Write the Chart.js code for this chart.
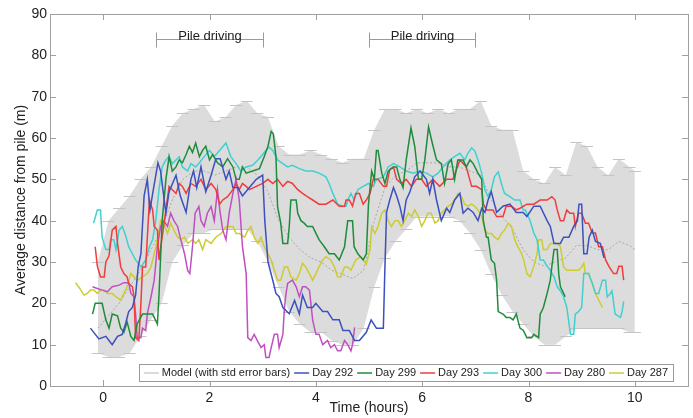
<!DOCTYPE html>
<html>
<head>
<meta charset="utf-8">
<script src="https://cdn.jsdelivr.net/npm/chart.js@4.4.1/dist/chart.umd.min.js"></script>
<style>
  html, body { margin: 0; padding: 0; background: #fff; }
</style>
</head>
<body>
<canvas id="chart" width="693" height="418"></canvas>
<script>
// axis ticks
const timeTicks = [0, 2, 4, 6, 8, 10];
const distTicks = [0, 10, 20, 30, 40, 50, 60, 70, 80, 90];

// pile driving periods (hours) and the height of the bracket (m)
const pileWindows = [[1, 3], [5, 7]];
const pileLevel = 84;

// model: mean with std error envelope
const bandTime  = [-0.1, 0.1, 0.3, 0.5, 0.7, 0.9, 1.1, 1.3, 1.5, 1.7, 1.9, 2.1, 2.3, 2.5, 2.7, 2.9, 3.1, 3.3, 3.5, 3.7, 3.9, 4.1, 4.3, 4.5, 4.7, 4.9, 5.1, 5.3, 5.5, 5.7, 5.9, 6.1, 6.3, 6.5, 6.7, 6.9, 7.1, 7.3, 7.5, 7.7, 7.9, 8.1, 8.3, 8.5, 8.7, 8.9, 9.1, 9.3, 9.5, 9.7, 9.9, 10.0];
const bandUpper = [30, 40, 43, 46, 50, 53, 58, 63, 66, 67, 68, 64, 65, 68, 69, 66, 65, 58, 56, 56, 57, 56, 55, 54, 55, 55, 62, 67, 67, 66, 67, 66, 67, 66, 67, 67, 69, 63, 62, 62, 52, 50, 49, 53, 51, 59, 58, 53, 51, 55, 53, 52];
const bandLower = [8, 7, 7, 8, 12, 16, 20, 30, 34, 37, 37, 38, 38, 38, 38, 35, 30, 24, 18, 15, 13, 13, 11, 10, 10, 14, 24, 31, 35, 38, 41, 41, 41, 41, 40, 37, 33, 27, 22, 18, 15, 12, 10, 10, 12, 14, 14, 14, 14, 14, 13, 13];
const bandMean  = [14, 17, 20, 24, 28, 33, 38, 45, 50, 52, 52, 51, 52, 53, 53, 51, 47, 40, 36, 33, 31, 30, 28, 27, 26, 28, 40, 48, 51, 52, 54, 54, 54, 53, 53, 52, 51, 45, 41, 38, 33, 30, 29, 30, 31, 34, 34, 33, 33, 35, 34, 33];

// observed days: [time (h), distance (m)]
const day292 = [[-0.24,14],[-0.08,11.4],[0.05,12],[0.11,11],[0.17,10],[0.27,12],[0.36,12.5],[0.42,15],[0.48,18],[0.55,19],[0.61,22],[0.66,29],[0.71,32],[0.77,46],[0.83,50],[0.88,42.6],[0.95,48],[1.03,54],[1.08,52],[1.18,41.8],[1.24,47],[1.37,51],[1.45,46],[1.56,42],[1.65,50],[1.7,52],[1.76,48],[1.84,53],[1.93,47],[2.03,51],[2.12,55],[2.2,55],[2.31,50],[2.37,52],[2.44,48],[2.53,48],[2.62,46],[2.75,48],[2.88,50],[3.0,51],[3.04,40],[3.1,30],[3.19,25.6],[3.25,22.4],[3.31,21.6],[3.38,19],[3.5,17.5],[3.6,20.7],[3.69,17.4],[3.75,22],[3.84,19],[3.94,19],[4.0,20],[4.13,18],[4.22,18],[4.32,16],[4.44,16],[4.51,13.4],[4.63,13.4],[4.73,11],[4.82,11],[4.95,13],[5.04,16],[5.14,14],[5.27,14],[5.3,29],[5.33,42],[5.39,45],[5.46,48],[5.52,46],[5.58,43.5],[5.64,40],[5.7,45],[5.77,47],[5.86,50.6],[5.96,52],[6.02,51],[6.08,50],[6.14,46.6],[6.2,50],[6.27,45],[6.36,40],[6.46,43],[6.52,42],[6.61,45],[6.71,46.6],[6.77,41.8],[6.86,43],[6.96,42],[7.05,40],[7.12,43],[7.18,42],[7.24,45],[7.3,47],[7.36,44],[7.4,42],[7.52,43.5],[7.65,44],[7.77,42],[7.9,42],[7.97,41],[8.1,43.5],[8.22,43.5],[8.35,40],[8.41,38.6],[8.48,34.5],[8.6,34.5],[8.66,36],[8.76,36],[8.85,38.6],[8.92,40],[8.95,44],[9.0,44],[9.04,32],[9.1,32],[9.14,36],[9.2,37.7],[9.26,35],[9.35,34.5],[9.42,31]];
const day299 = [[-0.2,17.4],[-0.15,20],[-0.02,20],[0.05,16],[0.11,14],[0.17,17.4],[0.27,17],[0.33,14],[0.39,13],[0.45,15.5],[0.52,12],[0.58,11],[0.64,15],[0.74,17.4],[0.84,17.4],[0.93,17.4],[1.02,15],[1.05,22],[1.11,40],[1.18,50],[1.24,55.5],[1.3,52],[1.37,53],[1.43,54.7],[1.49,54],[1.56,56],[1.62,58],[1.68,56.5],[1.74,58.8],[1.81,55.5],[1.87,57],[1.93,58],[2.0,54.7],[2.06,56],[2.15,54],[2.25,53],[2.34,55],[2.44,53],[2.5,50],[2.56,50],[2.62,53],[2.69,51.5],[2.81,52],[2.94,52.6],[3.03,55.5],[3.1,58],[3.16,61.6],[3.2,61],[3.25,55.5],[3.28,43.4],[3.34,39.4],[3.38,34.5],[3.47,34.5],[3.5,38.6],[3.53,45],[3.63,45],[3.66,41.8],[3.72,40],[3.78,39.4],[3.84,38.6],[3.94,38.6],[4.0,37],[4.06,35.4],[4.16,33.7],[4.25,32],[4.35,32],[4.44,30.5],[4.54,33.7],[4.6,40],[4.69,40],[4.72,33.7],[4.79,32],[4.89,30.5],[4.95,32],[4.99,44],[5.05,52],[5.1,50],[5.14,57],[5.17,57],[5.24,51.5],[5.3,49],[5.36,52],[5.46,53],[5.52,53],[5.58,50],[5.64,48],[5.7,54.7],[5.79,62.4],[5.86,58],[5.93,50],[5.99,50],[6.05,54.7],[6.12,62.7],[6.19,58.8],[6.27,54.7],[6.36,53.8],[6.42,49],[6.49,53.8],[6.55,54.7],[6.61,50],[6.67,54.7],[6.77,54.7],[6.83,53],[6.9,54.7],[6.96,53.8],[7.05,51.5],[7.12,50],[7.15,40],[7.21,36],[7.24,36],[7.3,30.5],[7.36,29.7],[7.4,25.6],[7.43,18],[7.52,17.4],[7.58,16.6],[7.65,16.6],[7.71,16],[7.77,17.4],[7.84,14],[7.9,13.5],[7.97,11.7],[8.06,11.7],[8.1,12.5],[8.19,11.7],[8.22,17.4],[8.28,19],[8.35,22.4],[8.41,25.6],[8.44,29],[8.48,33],[8.54,33],[8.57,27],[8.6,24],[8.66,22.4],[8.69,21.6]];
const day293 = [[-0.15,33.7],[-0.11,29],[-0.05,26.4],[0.02,26.4],[0.05,30],[0.11,31.5],[0.17,37.7],[0.24,38.6],[0.27,34.5],[0.33,28.8],[0.39,27.2],[0.45,26.4],[0.48,24.8],[0.55,24],[0.58,21.6],[0.61,11.7],[0.67,11],[0.71,20],[0.74,28.8],[0.8,28.8],[0.87,45],[0.93,42.6],[0.96,38.6],[1.02,37.7],[1.05,30.5],[1.11,36],[1.18,42.6],[1.24,48.3],[1.3,47.5],[1.37,46.6],[1.43,49],[1.49,48.3],[1.56,46.6],[1.65,49],[1.74,48.3],[1.84,50],[1.93,47.5],[2.03,49],[2.12,47.5],[2.19,44],[2.25,45],[2.34,45.8],[2.44,47.5],[2.5,49],[2.56,47.5],[2.62,49],[2.69,48.3],[2.75,47.5],[2.88,48.3],[3.0,49],[3.1,50],[3.19,49],[3.28,50],[3.38,48.3],[3.47,49.5],[3.56,49],[3.66,47.5],[3.75,46.6],[3.84,45.8],[3.94,45],[4.06,44],[4.19,44],[4.32,45],[4.44,43.5],[4.54,43.5],[4.57,45],[4.63,45],[4.69,43.5],[4.75,46.6],[4.82,46.6],[4.89,44],[4.95,45],[5.02,46.6],[5.08,50],[5.17,50],[5.27,48.3],[5.33,48.3],[5.39,52.4],[5.46,53],[5.52,50],[5.61,49],[5.7,50],[5.8,48.3],[5.89,50],[5.99,50],[6.08,48.3],[6.2,50],[6.33,48.3],[6.46,50],[6.58,50],[6.71,54.7],[6.83,53],[6.93,48.3],[7.02,48.3],[7.12,47.5],[7.15,44],[7.21,42.6],[7.33,42.6],[7.4,41],[7.52,41],[7.58,43.5],[7.68,43.5],[7.77,42.6],[7.84,43],[7.97,44],[8.1,44],[8.22,45],[8.35,45],[8.44,45.8],[8.5,45],[8.54,42.6],[8.6,40],[8.66,40],[8.72,42.6],[8.78,41.8],[8.85,41.8],[8.88,38.6],[8.94,41.8],[9.0,41.8],[9.07,39.4],[9.13,39.4],[9.2,37],[9.26,37],[9.32,33.7],[9.39,33.7],[9.45,30.5],[9.51,29],[9.6,27.2],[9.66,27.2],[9.7,29],[9.76,29],[9.79,25.6]];
const day300 = [[-0.18,39.4],[-0.11,42.6],[-0.05,42.6],[-0.02,36],[0.05,33],[0.11,33],[0.14,35.4],[0.2,35.4],[0.24,33],[0.3,37.7],[0.36,38.6],[0.42,36.5],[0.48,33.7],[0.55,32],[0.61,30.5],[0.71,28.8],[0.8,30.5],[0.87,33.7],[0.93,35.4],[0.99,40],[1.05,47.5],[1.11,53],[1.18,54.7],[1.24,55.5],[1.3,53.8],[1.37,54.7],[1.43,55.5],[1.49,53],[1.59,52],[1.65,53.8],[1.74,53],[1.81,54],[1.9,55.5],[2.0,57],[2.09,55.5],[2.19,57],[2.31,58.8],[2.4,55.5],[2.5,53.8],[2.59,52],[2.69,53],[2.81,53.4],[2.91,54.7],[3.0,56],[3.06,57],[3.12,57.8],[3.19,57],[3.28,54.7],[3.38,53.8],[3.47,53],[3.56,53.4],[3.69,52.6],[3.81,52],[3.94,52],[4.06,51.5],[4.19,50.6],[4.25,49],[4.32,46.6],[4.41,44],[4.51,43.5],[4.57,43.5],[4.6,45],[4.66,46.6],[4.72,45],[4.79,47.5],[4.89,48.3],[4.99,49],[5.08,48.3],[5.14,50],[5.27,50.6],[5.36,53],[5.46,53.8],[5.58,53],[5.7,52],[5.83,51.5],[5.96,52],[6.08,51.5],[6.2,50.6],[6.3,51.5],[6.39,53],[6.52,54.7],[6.61,55.5],[6.71,56.3],[6.8,54.7],[6.86,56.3],[6.93,57.6],[6.99,56.9],[7.05,54.7],[7.12,51.5],[7.18,47.5],[7.24,45.8],[7.3,47.5],[7.36,50.6],[7.43,51.8],[7.49,49],[7.55,46.6],[7.65,45.8],[7.74,45],[7.84,45],[7.9,42.6],[7.94,42.6],[8.03,40],[8.1,37],[8.16,35.4],[8.22,30.5],[8.28,30.5],[8.35,29],[8.41,28],[8.48,26.4],[8.54,24],[8.6,23],[8.66,21.6],[8.72,19],[8.79,12.5],[8.85,12.5],[8.88,17.4],[8.94,18],[9.0,19],[9.04,27.2],[9.13,27.2],[9.2,24.8],[9.26,22.4],[9.32,22.4],[9.39,25.6],[9.45,25.6],[9.48,21.6],[9.54,22.4],[9.57,23],[9.63,17.4],[9.73,16.6],[9.76,18],[9.79,20.5]];
const day280 = [[-0.2,24],[-0.11,23.6],[-0.02,23.2],[0.08,22.8],[0.17,24],[0.3,24.4],[0.39,25],[0.48,25],[0.52,22.4],[0.58,21.6],[0.61,17.4],[0.64,11.7],[0.71,11.7],[0.74,14],[0.8,13.4],[0.83,17.4],[0.9,21.6],[0.96,25.6],[1.02,33.7],[1.08,38.6],[1.14,40],[1.21,38.6],[1.27,41.8],[1.33,40],[1.4,38.6],[1.46,35.4],[1.53,32],[1.59,27.9],[1.63,27.2],[1.68,33.7],[1.73,41.8],[1.8,43.4],[1.84,40],[1.9,38.6],[1.96,41.8],[2.03,43.4],[2.09,40],[2.15,47.5],[2.2,42],[2.25,37.7],[2.31,35.4],[2.37,41.8],[2.44,46.6],[2.5,50],[2.56,45],[2.62,33.7],[2.69,27.2],[2.72,11.7],[2.78,11],[2.84,12.5],[2.9,11],[2.97,9.3],[3.03,10],[3.06,6.9],[3.12,6.9],[3.16,9.3],[3.22,12.5],[3.28,12.5],[3.31,9.3],[3.38,12.5],[3.41,19],[3.44,22.4],[3.47,24.8],[3.56,25.6],[3.63,24],[3.69,21.6],[3.75,24],[3.81,24],[3.88,23.2],[3.94,16],[4.0,12.5],[4.06,12.5],[4.13,10],[4.22,11],[4.28,9.3],[4.35,10],[4.41,8.5],[4.47,8.5],[4.54,11],[4.6,10],[4.66,8.5],[4.69,10],[4.73,14.2]];
const day287 = [[-0.52,25],[-0.44,23.6],[-0.36,22],[-0.3,22.4],[-0.24,23.2],[-0.17,23.2],[-0.11,22.4],[-0.05,23.2],[0.02,23.2],[0.08,22.4],[0.17,22.4],[0.24,21.6],[0.33,20.8],[0.39,22.4],[0.45,24],[0.52,27.2],[0.58,26.4],[0.64,25.6],[0.74,26.4],[0.83,27.2],[0.9,28.8],[0.96,32],[1.02,35.4],[1.08,40],[1.14,39.4],[1.21,36.9],[1.27,39.4],[1.33,37.7],[1.4,36],[1.46,35.4],[1.53,36],[1.59,34.5],[1.68,35.4],[1.74,34.5],[1.8,35.4],[1.87,33],[1.93,35.4],[2.03,34.5],[2.12,36],[2.22,36.9],[2.31,38.6],[2.44,38.6],[2.5,36.9],[2.56,36.9],[2.66,36],[2.72,37.7],[2.78,38.6],[2.84,36],[2.91,34.5],[2.97,36],[3.03,33.7],[3.1,32],[3.16,30.5],[3.22,28],[3.28,25.6],[3.34,25.6],[3.41,28.8],[3.47,28.8],[3.53,26.4],[3.63,25.6],[3.69,27.2],[3.75,29.7],[3.81,28.8],[3.88,27.2],[3.94,25.6],[4.0,27.2],[4.06,28.8],[4.13,30.5],[4.19,31.3],[4.28,30.5],[4.35,28.8],[4.41,26.4],[4.47,26.4],[4.54,28.8],[4.6,28.8],[4.66,28],[4.75,30.5],[4.85,31.3],[4.95,29.5],[5.02,33],[5.05,38.6],[5.11,36.9],[5.17,38.6],[5.24,41.8],[5.3,42.6],[5.36,40],[5.42,38.6],[5.49,40],[5.55,40],[5.61,38.6],[5.67,40],[5.74,41.8],[5.8,41],[5.86,42.6],[5.93,41],[5.99,38.6],[6.05,40],[6.11,41.8],[6.17,41.8],[6.24,39.4],[6.3,40],[6.36,41.8],[6.42,42.6],[6.49,43.5],[6.55,44],[6.61,45],[6.67,46.6],[6.74,45.8],[6.8,44],[6.86,43.5],[6.93,44],[6.99,43.5],[7.05,42.6],[7.12,41],[7.18,37.7],[7.24,36.9],[7.3,36.9],[7.36,36],[7.43,35.4],[7.49,36.9],[7.55,37.7],[7.62,39.4],[7.68,38.6],[7.74,35.4],[7.8,33.7],[7.87,32],[7.91,30.5],[7.97,27.2],[8.03,26.4],[8.1,29],[8.16,32],[8.19,35.4],[8.25,35.4],[8.28,33],[8.35,33],[8.41,34.5],[8.54,34.5],[8.6,33.7],[8.66,28.8],[8.72,28],[8.79,28],[8.94,28],[9.0,28.8],[9.04,29.7],[9.07,27.2],[9.13,27.2],[9.2,24.8],[9.26,22.4],[9.32,20.8],[9.39,19]];

const FONT = '"Liberation Sans", Arial, sans-serif';
const AXIS_GREY = '#a0a0a0';

const pairs = (arr) => arr.map(([x, y]) => ({ x, y }));
const zipBand = (vals) => bandTime.map((t, i) => ({ x: t, y: vals[i] }));

const dayLine = (label, data, color, order) => ({
  label, data: pairs(data), borderColor: color, backgroundColor: color,
  borderWidth: 1.5, pointRadius: 0, tension: 0, fill: false, order
});

const datasets = [
  { label: 'bandUpper', data: zipBand(bandUpper), borderWidth: 0, borderColor: 'rgba(0,0,0,0)',
    pointRadius: 0, fill: '+1', backgroundColor: '#dcdcdc', order: 20 },
  { label: 'bandLower', data: zipBand(bandLower), borderWidth: 0, borderColor: 'rgba(0,0,0,0)',
    pointRadius: 0, fill: false, order: 21 },
  { label: 'Model (with std error bars)', data: zipBand(bandMean), borderColor: '#a8a8a8',
    borderWidth: 1, borderDash: [2, 2], pointRadius: 0, fill: false, order: 19 },
  dayLine('Day 292', day292, '#3c50be', 1),
  dayLine('Day 299', day299, '#1e8c3c', 2),
  dayLine('Day 293', day293, '#f03c3c', 3),
  dayLine('Day 300', day300, '#40d0d0', 4),
  dayLine('Day 280', day280, '#c050c0', 5),
  dayLine('Day 287', day287, '#cccc33', 6)
];

// error bar caps along the model envelope
const errorBars = {
  id: 'errorBars',
  afterDatasetDraw(chart, args) {
    if (chart.data.datasets[args.index].label !== 'bandUpper') return;
    const { ctx, scales: { x, y } } = chart;
    ctx.save();
    ctx.strokeStyle = '#c4c4c4';
    ctx.lineWidth = 1;
    bandTime.forEach((t, i) => {
      const px = x.getPixelForValue(t);
      [bandUpper[i], bandLower[i]].forEach((v) => {
        const py = Math.round(y.getPixelForValue(v)) + 0.5;
        ctx.beginPath();
        ctx.moveTo(px - 6, py); ctx.lineTo(px + 6, py);
        ctx.stroke();
      });
    });
    ctx.restore();
  }
};

// box around the plot and inward ticks
const frame = {
  id: 'frame',
  afterDatasetsDraw(chart) {
    const { ctx, chartArea: a, scales: { x, y } } = chart;
    ctx.save();
    ctx.strokeStyle = AXIS_GREY;
    ctx.lineWidth = 1;
    ctx.strokeRect(Math.round(a.left) + 0.5, Math.round(a.top) + 0.5,
      Math.round(a.right - a.left), Math.round(a.bottom - a.top));
    ctx.beginPath();
    timeTicks.forEach((t) => {
      const px = Math.round(x.getPixelForValue(t)) + 0.5;
      ctx.moveTo(px, a.bottom); ctx.lineTo(px, a.bottom - 6);
      ctx.moveTo(px, a.top); ctx.lineTo(px, a.top + 6);
    });
    distTicks.forEach((v) => {
      const py = Math.round(y.getPixelForValue(v)) + 0.5;
      ctx.moveTo(a.left, py); ctx.lineTo(a.left + 6, py);
      ctx.moveTo(a.right, py); ctx.lineTo(a.right - 6, py);
    });
    ctx.stroke();
    ctx.restore();
  }
};

// "Pile driving" brackets
const pileNotes = {
  id: 'pileNotes',
  afterDatasetsDraw(chart) {
    const { ctx, scales: { x, y } } = chart;
    const py = Math.round(y.getPixelForValue(pileLevel)) + 0.5;
    ctx.save();
    ctx.strokeStyle = '#9a9a9a';
    ctx.lineWidth = 1;
    ctx.fillStyle = '#222';
    ctx.font = '13px ' + FONT;
    ctx.textAlign = 'center';
    ctx.textBaseline = 'alphabetic';
    pileWindows.forEach(([s, e]) => {
      const x0 = Math.round(x.getPixelForValue(s)) + 0.5;
      const x1 = Math.round(x.getPixelForValue(e)) + 0.5;
      ctx.beginPath();
      ctx.moveTo(x0, py); ctx.lineTo(x1, py);
      ctx.moveTo(x0, py - 7); ctx.lineTo(x0, py + 8);
      ctx.moveTo(x1, py - 7); ctx.lineTo(x1, py + 8);
      ctx.stroke();
      ctx.fillText('Pile driving', (x0 + x1) / 2, py);
    });
    ctx.restore();
  }
};

// legend box inside the plot, bottom right
const boxLegend = {
  id: 'boxLegend',
  afterDraw(chart) {
    const { ctx, chartArea: a } = chart;
    const items = chart.data.datasets.filter((d) => !d.label.startsWith('band'));
    ctx.save();
    ctx.font = '11px ' + FONT;
    const sample = 15, gapIn = 3, gapOut = 4, pad = 5;
    const widths = items.map((d) => ctx.measureText(d.label).width);
    const total = pad * 2 + widths.reduce((s, w) => s + w, 0) +
      items.length * (sample + gapIn) + (items.length - 1) * gapOut;
    const right = a.right - 15, bottom = a.bottom - 5, h = 17;
    const left = right - total, top = bottom - h;
    ctx.fillStyle = '#fff';
    ctx.fillRect(left, top, total, h);
    ctx.strokeStyle = '#9a9a9a';
    ctx.lineWidth = 1;
    ctx.strokeRect(Math.round(left) + 0.5, Math.round(top) + 0.5, Math.round(total), h);
    let cx = left + pad;
    const cy = top + h / 2 + 0.5;
    items.forEach((d, i) => {
      ctx.beginPath();
      ctx.strokeStyle = d.label.startsWith('Model') ? '#dadada' : d.borderColor;
      ctx.lineWidth = d.label.startsWith('Model') ? 2 : 1.5;
      ctx.moveTo(cx, cy); ctx.lineTo(cx + sample, cy);
      ctx.stroke();
      cx += sample + gapIn;
      ctx.fillStyle = '#222';
      ctx.textBaseline = 'middle';
      ctx.fillText(d.label, cx, cy);
      cx += widths[i] + gapOut;
    });
    ctx.restore();
  }
};

Chart.defaults.font.family = FONT;
Chart.defaults.color = '#222';

new Chart(document.getElementById('chart'), {
  type: 'line',
  data: { datasets },
  options: {
    responsive: false,
    animation: false,
    layout: { padding: { top: 14, right: 5, left: 0, bottom: 0 } },
    plugins: { legend: { display: false }, tooltip: { enabled: false } },
    scales: {
      x: {
        type: 'linear', min: -1, max: 11,
        grid: { display: false, drawTicks: false }, border: { display: false },
        afterBuildTicks: (s) => { s.ticks = timeTicks.map((v) => ({ value: v })); },
        afterFit: (s) => { s.height = 32; },
        ticks: { font: { size: 14 }, padding: 4, maxRotation: 0 },
        title: { display: true, text: 'Time (hours)', font: { size: 14 }, padding: { top: 0, bottom: 1 } }
      },
      y: {
        type: 'linear', min: 0, max: 90,
        grid: { display: false, drawTicks: false }, border: { display: false },
        afterBuildTicks: (s) => { s.ticks = distTicks.map((v) => ({ value: v })); },
        afterFit: (s) => { s.width = 50; },
        ticks: { font: { size: 14 }, padding: 3 },
        title: { display: true, text: 'Average distance from pile (m)', font: { size: 14 }, padding: { top: 13, bottom: 0 } }
      }
    }
  },
  plugins: [errorBars, frame, pileNotes, boxLegend]
});
</script>
</body>
</html>
